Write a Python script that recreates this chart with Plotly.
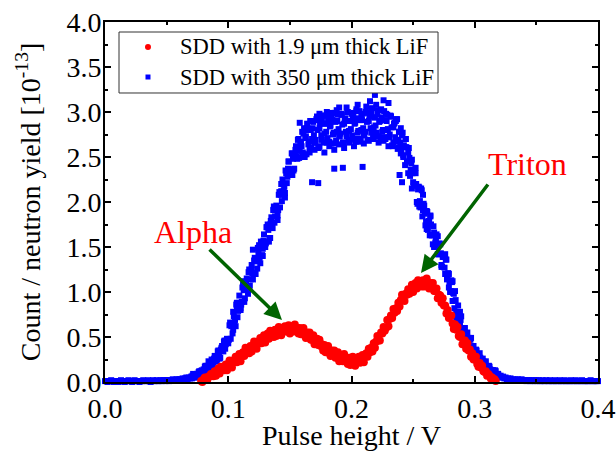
import numpy as np
import plotly.graph_objects as go

# ---------------- data ----------------
# SDD with 1.9 um thick LiF : pulse-height channels from 0.078 V, 0.001 V apart
red_x_start = 0.078
red_x_step = 0.001
red_y = [
    0.01, 0.00, 0.03, 0.05, 0.025, 0.025, 0.06, 0.06, 0.09, 0.07,
    0.065, 0.12, 0.07, 0.12, 0.15, 0.095, 0.17, 0.13, 0.17, 0.13,
    0.195, 0.13, 0.19, 0.24, 0.18, 0.16, 0.24, 0.22, 0.28, 0.22,
    0.24, 0.31, 0.23, 0.30, 0.33, 0.29, 0.38, 0.33, 0.37, 0.32,
    0.40, 0.34, 0.40, 0.45, 0.39, 0.37, 0.45, 0.43, 0.49, 0.43,
    0.45, 0.52, 0.44, 0.51, 0.54, 0.48, 0.57, 0.52, 0.56, 0.50,
    0.58, 0.51, 0.57, 0.61, 0.55, 0.52, 0.60, 0.57, 0.62, 0.56,
    0.57, 0.63, 0.54, 0.60, 0.62, 0.56, 0.64, 0.575, 0.60, 0.54,
    0.60, 0.53, 0.57, 0.60, 0.52, 0.49, 0.55, 0.51, 0.55, 0.47,
    0.47, 0.52, 0.42, 0.47, 0.48, 0.41, 0.47, 0.40, 0.42, 0.35,
    0.41, 0.33, 0.37, 0.40, 0.32, 0.29, 0.35, 0.31, 0.35, 0.27,
    0.28, 0.33, 0.23, 0.28, 0.30, 0.23, 0.31, 0.24, 0.27, 0.20,
    0.27, 0.19, 0.24, 0.28, 0.21, 0.18, 0.25, 0.225, 0.28, 0.215,
    0.23, 0.30, 0.22, 0.29, 0.32, 0.28, 0.37, 0.33, 0.38, 0.34,
    0.43, 0.38, 0.45, 0.51, 0.46, 0.46, 0.55, 0.54, 0.61, 0.57,
    0.60, 0.69, 0.62, 0.70, 0.74, 0.71, 0.81, 0.77, 0.82, 0.79,
    0.88, 0.84, 0.91, 0.97, 0.91, 0.90, 0.98, 0.97, 1.03, 0.98,
    1.00, 1.08, 1.00, 1.07, 1.10, 1.04, 1.13, 1.08, 1.11, 1.06,
    1.13, 1.06, 1.11, 1.15, 1.07, 1.04, 1.10, 1.06, 1.10, 1.01,
    1.01, 1.04, 0.93, 0.97, 0.96, 0.88, 0.93, 0.85, 0.85, 0.76,
    0.80, 0.71, 0.73, 0.74, 0.65, 0.59, 0.64, 0.58, 0.61, 0.51,
    0.50, 0.53, 0.42, 0.46, 0.46, 0.37, 0.43, 0.35, 0.36, 0.28,
    0.32, 0.25, 0.27, 0.28, 0.20, 0.17, 0.21, 0.16, 0.18, 0.12,
    0.11, 0.12, 0.07, 0.09, 0.07, 0.04, 0.05, 0.03, 0.03, 0.01,
]

# SDD with 350 um thick LiF : channels from 0.000 V, 0.001 V apart
blue_x_start = 0.0
blue_x_step = 0.001
blue_y = [
    0.01, 0.01, 0.00, 0.01, 0.01, 0.02, 0.01, 0.00, 0.01, 0.01,
    0.01, 0.00, 0.01, 0.02, 0.01, 0.01, 0.00, 0.01, 0.01, 0.02,
    0.01, 0.01, 0.00, 0.01, 0.02, 0.01, 0.01, 0.01, 0.00, 0.01,
    0.01, 0.02, 0.01, 0.01, 0.01, 0.02, 0.01, 0.00, 0.01, 0.02,
    0.01, 0.01, 0.02, 0.01, 0.01, 0.02, 0.01, 0.02, 0.02, 0.01, 0.02,
    0.02, 0.01, 0.02, 0.02, 0.03, 0.02, 0.02, 0.03, 0.02, 0.03,
    0.03, 0.02, 0.04, 0.03, 0.04, 0.05, 0.03, 0.05, 0.04, 0.06,
    0.07, 0.05, 0.08, 0.06, 0.09, 0.11, 0.08, 0.12, 0.10, 0.14,
    0.17, 0.11, 0.18, 0.23, 0.17, 0.15, 0.24, 0.22, 0.29, 0.23,
    0.25, 0.35, 0.26, 0.36, 0.40, 0.34, 0.46, 0.42, 0.48, 0.43,
    0.63, 0.48, 0.65, 0.78, 0.65, 0.62, 0.83, 0.79, 0.96, 0.82,
    0.89, 1.08, 0.89, 1.07, 1.15, 1.02, 1.25, 1.14, 1.25, 1.14,
    1.35, 1.20, 1.37, 1.49, 1.35, 1.32, 1.52, 1.48, 1.64, 1.50,
    1.56, 1.75, 1.56, 1.75, 1.83, 1.71, 1.95, 1.84, 1.96, 1.85,
    2.08, 1.94, 2.12, 2.25, 2.13, 2.10, 2.32, 2.28, 2.45, 2.30,
    2.36, 2.54, 2.35, 2.53, 2.61, 2.48, 2.70, 2.57, 2.67, 2.54,
    2.76, 2.53, 2.73, 2.87, 2.64, 2.55, 2.80, 2.70, 2.89, 2.66,
    2.69, 2.91, 2.60, 2.82, 2.88, 2.69, 2.96, 2.76, 2.87, 2.66,
    2.91, 2.67, 2.85, 2.99, 2.75, 2.65, 2.89, 2.78, 2.97, 2.73,
    2.76, 2.97, 2.66, 2.87, 2.93, 2.73, 3.00, 2.79, 2.90, 2.69,
    2.94, 2.70, 2.88, 3.01, 2.77, 2.67, 2.91, 2.80, 2.98, 2.74,
    2.78, 2.99, 2.69, 2.90, 2.96, 2.77, 3.04, 2.83, 2.94, 2.73,
    2.97, 2.73, 2.90, 3.03, 2.78, 2.68, 2.91, 2.80, 2.97, 2.72,
    2.75, 2.95, 2.63, 2.83, 2.88, 2.67, 2.92, 2.69, 2.78, 2.54,
    2.74, 2.50, 2.61, 2.70, 2.45, 2.32, 2.49, 2.36, 2.47, 2.22,
    2.19, 2.32, 2.00, 2.14, 2.16, 1.94, 2.13, 1.91, 1.96, 1.74,
    1.90, 1.69, 1.78, 1.84, 1.63, 1.53, 1.66, 1.55, 1.64, 1.42,
    1.42, 1.53, 1.28, 1.39, 1.40, 1.20, 1.36, 1.17, 1.20, 1.00,
    1.13, 0.90, 0.98, 1.01, 0.78, 0.66, 0.77, 0.64, 0.73, 0.51,
    0.52, 0.60, 0.41, 0.49, 0.49, 0.37, 0.49, 0.36, 0.40, 0.27,
    0.36, 0.25, 0.29, 0.32, 0.22, 0.17, 0.23, 0.19, 0.23, 0.13,
    0.14, 0.17, 0.10, 0.13, 0.13, 0.08, 0.12, 0.07, 0.09, 0.05,
    0.07, 0.05, 0.06, 0.04, 0.05, 0.03, 0.04, 0.03, 0.04, 0.02,
    0.03, 0.02, 0.03, 0.02, 0.03, 0.02, 0.02, 0.03, 0.02, 0.02,
    0.02, 0.01, 0.02, 0.02, 0.01, 0.02, 0.01, 0.02, 0.01, 0.02,
    0.01, 0.02, 0.01, 0.01, 0.02, 0.01, 0.01, 0.02, 0.01, 0.01,
    0.02, 0.01, 0.01, 0.01, 0.02, 0.01, 0.01, 0.01, 0.02, 0.01,
    0.01, 0.01, 0.02, 0.01, 0.01, 0.01, 0.01, 0.02, 0.01, 0.01,
    0.01, 0.02, 0.01, 0.01, 0.01, 0.01, 0.02, 0.01, 0.01, 0.01,
    0.01, 0.01, 0.01, 0.02, 0.01, 0.01, 0.01, 0.01, 0.01, 0.01,
]

# the same 350 um series at the in-between half channels (0.0705 V upward)
blue_half_x_start = 0.0705
blue_half_y = [
    0.04, 0.09, 0.08, 0.05, 0.09, 0.08, 0.12, 0.08, 0.13, 0.12,
    0.11, 0.18, 0.17, 0.13, 0.21, 0.18, 0.25, 0.19, 0.26, 0.25,
    0.23, 0.34, 0.32, 0.27, 0.38, 0.35, 0.45, 0.37, 0.46, 0.46,
    0.47, 0.66, 0.62, 0.54, 0.73, 0.69, 0.86, 0.72, 0.88, 0.87,
    0.86, 1.05, 1.02, 0.93, 1.11, 1.06, 1.22, 1.07, 1.23, 1.21,
    1.20, 1.38, 1.34, 1.26, 1.44, 1.39, 1.56, 1.41, 1.57, 1.55,
    1.54, 1.72, 1.69, 1.60, 1.79, 1.74, 1.91, 1.77, 1.93, 1.92,
    1.91, 2.11, 2.08, 2.01, 2.20, 2.17, 2.35, 2.21, 2.37, 2.36,
    2.33, 2.54, 2.48, 2.37, 2.58, 2.51, 2.69, 2.49, 2.66, 2.62,
    2.55, 2.82, 2.71, 2.53, 2.80, 2.67, 2.90, 2.60, 2.82, 2.74,
    2.66, 2.92, 2.80, 2.61, 2.87, 2.74, 2.96, 2.66, 2.87, 2.78,
    2.71, 2.96, 2.84, 2.65, 2.91, 2.77, 2.99, 2.68, 2.90, 2.81,
    2.73, 2.98, 2.86, 2.66, 2.92, 2.78, 3.00, 2.69, 2.90, 2.81,
    2.74, 2.99, 2.87, 2.67, 2.93, 2.79, 3.01, 2.70, 2.91, 2.82,
    2.75, 3.00, 2.89, 2.69, 2.95, 2.82, 3.04, 2.73, 2.94, 2.85,
    2.77, 3.02, 2.89, 2.69, 2.94, 2.80, 3.01, 2.70, 2.90, 2.81,
    2.72, 2.96, 2.83, 2.62, 2.87, 2.72, 2.92, 2.59, 2.78, 2.66,
    2.57, 2.77, 2.63, 2.41, 2.61, 2.45, 2.60, 2.29, 2.43, 2.32,
    2.18, 2.36, 2.20, 1.98, 2.17, 2.01, 2.15, 1.84, 1.98, 1.87,
    1.78, 1.89, 1.79, 1.63, 1.75, 1.63, 1.73, 1.51, 1.60, 1.51,
    1.42, 1.54, 1.43, 1.28, 1.39, 1.27, 1.36, 1.14, 1.21, 1.11,
    1.01, 1.11, 0.99, 0.82, 0.91, 0.77, 0.85, 0.62, 0.69, 0.60,
    0.53, 0.59, 0.52, 0.42, 0.48, 0.41, 0.47, 0.34, 0.39, 0.34,
    0.31, 0.35, 0.30, 0.23, 0.27, 0.22, 0.26, 0.17, 0.21, 0.17,
    0.15, 0.18, 0.14, 0.10, 0.13, 0.10, 0.13, 0.06, 0.09, 0.07,
    0.06,
]

# extra scattered points of the 350 um series (spread of the cloud, outliers)
blue_extra_x = [
    0.120, 0.168, 0.173, 0.239, 0.241, 0.219, 0.226, 0.230, 0.215, 0.205,
    0.190, 0.174, 0.158, 0.186, 0.193, 0.209,
    0.160, 0.162, 0.164, 0.166, 0.168, 0.170, 0.172, 0.174, 0.176, 0.178,
    0.180, 0.182, 0.184, 0.186, 0.188, 0.190, 0.192, 0.194, 0.196, 0.198,
    0.200, 0.202, 0.204, 0.206, 0.208, 0.210, 0.212, 0.214, 0.216, 0.218,
    0.220, 0.222, 0.224, 0.226, 0.228, 0.230, 0.232, 0.234, 0.236, 0.238,
    0.240, 0.242, 0.244,
    0.104, 0.107, 0.110, 0.113, 0.116, 0.119, 0.122, 0.125, 0.128, 0.131,
    0.134, 0.137, 0.140, 0.143, 0.146, 0.149, 0.152, 0.155,
    0.246, 0.249, 0.252, 0.255, 0.258, 0.261, 0.264, 0.267, 0.270, 0.273,
    0.276, 0.279, 0.282, 0.285, 0.288, 0.291, 0.294, 0.297,
]
blue_extra_y = [
    1.47, 2.22, 2.21, 2.30, 2.22, 3.19, 3.13, 3.10, 3.12, 3.08,
    3.05, 2.98, 2.88, 2.37, 2.38, 2.39,
    2.78, 2.50, 2.82, 2.60, 2.90, 2.58, 2.95, 2.62, 2.93, 2.55,
    3.00, 2.62, 2.95, 2.58, 3.02, 2.64, 2.97, 2.60, 3.05, 2.66,
    2.98, 2.62, 3.03, 2.70, 2.96, 2.65, 3.06, 2.68, 3.00, 2.70,
    3.08, 2.66, 3.02, 2.72, 2.98, 2.62, 2.95, 2.66, 2.90, 2.60,
    2.82, 2.52, 2.70,
    0.58, 0.88, 0.80, 1.12, 0.98, 1.30, 1.20, 1.52, 1.40, 1.72,
    1.60, 1.92, 1.80, 2.20, 2.05, 2.45, 2.30, 2.62,
    2.55, 2.15, 2.38, 1.95, 2.08, 1.70, 1.85, 1.50, 1.62, 1.30,
    1.42, 1.05, 1.12, 0.72, 0.78, 0.48, 0.55, 0.33,
]

x_ticks = [0.0, 0.1, 0.2, 0.3, 0.4]
y_ticks = [0.0, 0.5, 1.0, 1.5, 2.0, 2.5, 3.0, 3.5, 4.0]

red_name = "SDD with 1.9 \u03bcm thick LiF"
blue_name = "SDD with 350 \u03bcm thick LiF"

# ---------------- build ----------------
red_x = np.round(red_x_start + red_x_step * np.arange(len(red_y)), 4)
blue_x = np.round(blue_x_start + blue_x_step * np.arange(len(blue_y)), 4)
blue_half_x = np.round(blue_half_x_start + blue_x_step * np.arange(len(blue_half_y)), 4)

blue_all_x = list(blue_x) + list(blue_half_x) + blue_extra_x
blue_all_y = blue_y + blue_half_y + blue_extra_y

FONT = "Liberation Serif, Times New Roman, serif"
RED = "#ff0000"
BLUE = "#0000ff"
GREEN = "#006400"

fig = go.Figure()
fig.add_trace(go.Scatter(
    x=blue_all_x, y=blue_all_y,
    mode="markers", name=blue_name, cliponaxis=False, showlegend=False,
    marker=dict(symbol="square", size=6, color=BLUE, line=dict(width=0)),
))
fig.add_trace(go.Scatter(
    x=red_x, y=red_y, mode="markers", name=red_name, cliponaxis=False, showlegend=False,
    marker=dict(symbol="circle", size=8, color=RED, line=dict(width=0)),
))

axis_common = dict(
    showline=True, linewidth=2, linecolor="black", mirror="ticks",
    ticks="inside", ticklen=6, tickwidth=1.5, tickcolor="black",
    showgrid=False, zeroline=False,
    ticklabeloverflow="allow",
    tickfont=dict(family=FONT, size=28, color="black"),
)

fig.update_xaxes(
    range=[0, 0.4], tickvals=x_ticks, ticktext=[f"{v:.1f}" for v in x_ticks],
    minor=dict(ticks="inside", ticklen=3, tickwidth=1.5, tickcolor="black", dtick=0.05),
    title=dict(text="Pulse height / V", font=dict(family=FONT, size=28, color="black"), standoff=8),
    automargin=True,
    **axis_common,
)
fig.update_yaxes(
    range=[0, 4.0], tickvals=y_ticks, ticktext=[f"{v:.1f}" for v in y_ticks],
    minor=dict(ticks="inside", ticklen=3, tickwidth=1.5, tickcolor="black", dtick=0.25),
    title=dict(text="Count / neutron yield [10<sup>-13</sup>]",
               font=dict(family=FONT, size=28, color="black"), standoff=18),
    ticklabelstandoff=-4, automargin=False,
    **axis_common,
)

# peak labels and arrows
fig.add_annotation(x=0.0714, y=1.667, text="Alpha", showarrow=False,
                   font=dict(family=FONT, size=32, color=RED),
                   xanchor="center", yanchor="middle")
fig.add_annotation(x=0.3432, y=2.42, text="Triton", showarrow=False,
                   font=dict(family=FONT, size=32, color=RED),
                   xanchor="center", yanchor="middle")
fig.add_annotation(x=0.1436, y=0.689, ax=0.0836, ay=1.489, axref="x", ayref="y",
                   text="", showarrow=True, arrowhead=2, arrowsize=1,
                   arrowwidth=3.5, arrowcolor=GREEN, standoff=0)
fig.add_annotation(x=0.2564, y=1.211, ax=0.3116, ay=2.211, axref="x", ayref="y",
                   text="", showarrow=True, arrowhead=2, arrowsize=1,
                   arrowwidth=3.5, arrowcolor=GREEN, standoff=0)

# legend box (Origin style: compact rows), drawn in paper coordinates
fig.add_shape(type="rect", xref="paper", yref="paper",
              x0=0.0284, x1=0.6755, y0=0.8028, y1=0.9722,
              line=dict(color="#333333", width=1), fillcolor="white", layer="above")
leg_rows = [(red_name, RED, "circle", 0.9306), (blue_name, BLUE, "rect", 0.8472)]
for name, col, kind, yy in leg_rows:
    half = 3 if kind == "circle" else 2.5
    fig.add_shape(type=kind, xref="paper", yref="paper",
                  xsizemode="pixel", ysizemode="pixel",
                  xanchor=0.0872, yanchor=yy,
                  x0=-half, x1=half, y0=-half, y1=half,
                  fillcolor=col, line=dict(width=0), layer="above")
    fig.add_annotation(xref="paper", yref="paper", x=0.1481, y=yy, text=name,
                       showarrow=False, xanchor="left", yanchor="middle",
                       font=dict(family=FONT, size=22.5, color="black"))

fig.update_layout(
    width=616, height=451,
    margin=dict(l=105, r=18, t=22, b=69, autoexpand=False),
    paper_bgcolor="white", plot_bgcolor="white",
    font=dict(family=FONT, color="black"),
    showlegend=False,
)

# let the figure fill the window exactly (no default page margin), no modebar
fig.write_html(
    "out.html",
    config={"displayModeBar": False},
    post_script="document.body.style.margin='0px';document.body.style.overflow='hidden';",
)
